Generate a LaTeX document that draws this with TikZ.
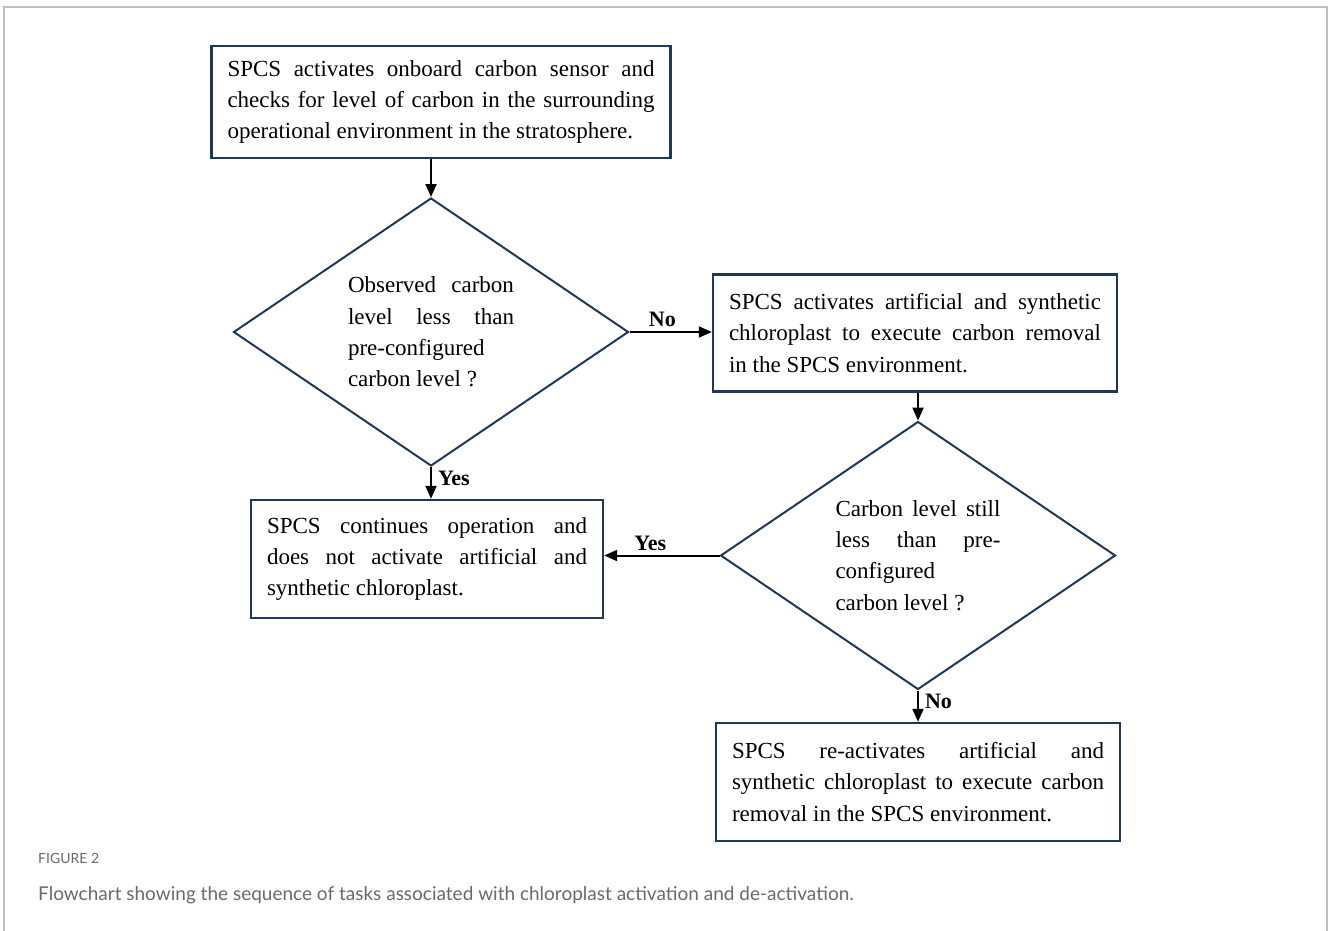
\documentclass[tikz,border=0pt]{standalone}
\usepackage{fontspec}
\setmainfont{Liberation Serif}
\newfontfamily\capfont{Lato}
\usetikzlibrary{shapes.geometric, arrows.meta}

\definecolor{boxblue}{RGB}{31,56,88}
\definecolor{framegray}{RGB}{190,190,190}
\definecolor{capgray}{RGB}{105,105,105}

\begin{document}
\begin{tikzpicture}[
    x=1pt, y=-1pt,
    task/.style={rectangle, draw=boxblue, line width=2.4pt, inner xsep=16pt, inner ysep=6pt,
        align=justify, font=\fontsize{23}{31.3}\selectfont},
    check/.style={diamond, draw=boxblue, line width=2pt, inner sep=0pt, aspect=1.47,
        minimum width=395pt, minimum height=268pt, align=justify, font=\fontsize{23}{31.3}\selectfont},
    arrow/.style={-{Triangle[length=13pt, width=11pt]}, line width=2pt},
    answer/.style={font=\fontsize{22}{26}\selectfont\bfseries, inner sep=2pt},
]
\useasboundingbox (0,0) rectangle (1328,931);

%% FRAME
    \draw[framegray, line width=1.6pt] (4,931) -- (4,7) -- (1327,7) -- (1327,931);

%% NODES
    % sensor check
    \node[task, text width=427pt, minimum width=458pt, minimum height=112pt] (sensor) at (441,102)
        {SPCS activates onboard carbon sensor and\linebreak checks for level of carbon in the surrounding\linebreak operational environment in the stratosphere.};

    % first decision
    \node[check, text width=166pt] (check_first) at (431,332)
        {Observed carbon\linebreak level less than\linebreak pre-configured\\ carbon level ?};

    % activation
    \node[task, text width=372pt, minimum width=404pt, minimum height=117pt] (activate) at (915,333)
        {SPCS activates artificial and synthetic\linebreak chloroplast to execute carbon removal\linebreak in the SPCS environment.};

    % second decision
    \node[check, text width=165pt] (check_second) at (918,555.5)
        {Carbon level still\linebreak less than pre-\linebreak configured\\ carbon level ?};

    % continue
    \node[task, text width=320pt, minimum width=352pt, minimum height=118pt] (continue) at (427,559)
        {SPCS continues operation and\linebreak does not activate artificial and\linebreak synthetic chloroplast.};

    % re-activation
    \node[task, text width=372pt, minimum width=404pt, minimum height=118pt] (reactivate) at (918,782)
        {SPCS re-activates artificial and\linebreak synthetic chloroplast to execute carbon\linebreak removal in the SPCS environment.};

    % caption
    \node[anchor=base west, inner sep=0pt, text=capgray, font=\capfont\fontsize{14}{16}\selectfont] (fig_label) at (38,863) {FIGURE 2};
    \node[anchor=base west, inner sep=0pt, text=capgray, font=\capfont\fontsize{19}{21}\selectfont] (fig_caption) at (38,900)
        {Flowchart showing the sequence of tasks associated with chloroplast activation and de-activation.};

%% CONNECTIONS
    \draw[arrow] (sensor.south -| check_first.north) -- (check_first.north);
    \draw[arrow] (check_first.east) -- node[answer, above=2pt, pos=0.4] {No} (check_first.east -| activate.west);
    \draw[arrow] (check_first.south) -- node[answer, right=4pt, pos=0.35] {Yes} (continue.north -| check_first.south);
    \draw[arrow] (activate.south -| check_second.north) -- (check_second.north);
    \draw[arrow] (check_second.west) -- node[answer, above=2pt, pos=0.6] {Yes} (check_second.west -| continue.east);
    \draw[arrow] (check_second.south) -- node[answer, right=4pt, pos=0.35] {No} (reactivate.north);

\end{tikzpicture}
\end{document}
